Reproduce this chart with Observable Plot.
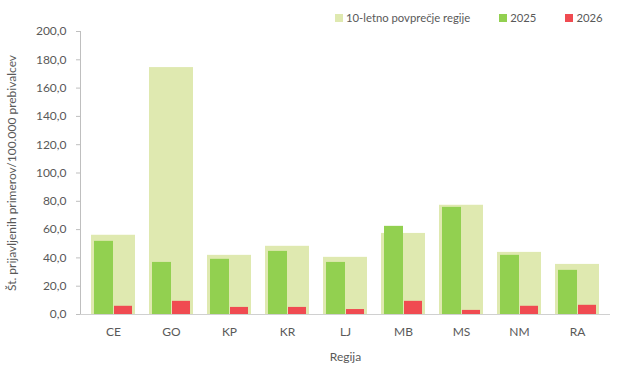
<!DOCTYPE html>
<html>
<head>
<meta charset="utf-8">
<script src="https://cdn.jsdelivr.net/npm/d3@7"></script>
<script src="https://cdn.jsdelivr.net/npm/@observablehq/plot@0.6"></script>
<style>
  html, body { margin: 0; padding: 0; background: #fff; }
  #wrap { position: relative; width: 625px; height: 374px; font-family: Lato, "Open Sans", sans-serif; color: #595959; }
  #legend { position: absolute; top: 11px; left: 335px; display: flex; align-items: center; font-size: 11.3px; white-space: nowrap; }
  .item { display: flex; align-items: center; margin-right: 29px; white-space: nowrap; }
  .sw { width: 8px; height: 8px; margin-right: 3px; flex: none; }
</style>
</head>
<body>
<div id="wrap">
  <div id="chart"></div>
  <div id="legend"></div>
</div>
<script>
const regions = ["CE", "GO", "KP", "KR", "LJ", "MB", "MS", "NM", "RA"];
const avg10 = [56.0, 174.5, 41.8, 48.2, 40.4, 57.3, 77.2, 43.9, 35.4];
const v2025 = [51.7, 36.8, 39.0, 44.6, 36.8, 62.3, 75.7, 41.8, 31.2];
const v2026 = [5.8, 9.3, 5.0, 5.0, 3.5, 9.3, 2.9, 5.8, 6.5];
const yTicks = [0, 20, 40, 60, 80, 100, 120, 140, 160, 180, 200];
const seriesNames = ["10-letno povprečje regije", "2025", "2026"];
const seriesColors = ["#dfe9b0", "#92d050", "#f04b51"];

const data = regions.map((r, i) => ({region: r, avg: avg10[i], a: v2025[i], b: v2026[i]}));
const fmt = d => d.toFixed(1).replace(".", ",");

const chart = Plot.plot({
  width: 625,
  height: 374,
  marginLeft: 80,
  marginRight: 15,
  marginTop: 31,
  marginBottom: 60,
  style: {fontFamily: "Lato, 'Open Sans', sans-serif", fontSize: "12px", color: "#595959", background: "transparent"},
  x: {domain: regions, paddingInner: 0.24, paddingOuter: 0.12},
  y: {domain: [0, 200]},
  marks: [
    Plot.barY(data, {x: "region", y: "avg", fill: seriesColors[0]}),
    Plot.barY(data, {x: "region", y: "a", fill: seriesColors[1], insetLeft: 3, insetRight: 22}),
    Plot.barY(data, {x: "region", y: "b", fill: seriesColors[2], insetLeft: 23, insetRight: 3}),
    Plot.frame({anchor: "left", stroke: "#bfbfbf"}),
    Plot.ruleY([0], {stroke: "#d0d0d0", insetLeft: -3}),
    Plot.axisY({ticks: yTicks, tickFormat: fmt, tickSize: 4, tickPadding: 10, stroke: "#bfbfbf",
      label: "Št. prijavljenih primerov/100.000 prebivalcev", labelAnchor: "center", labelArrow: "none", labelOffset: 73}),
    Plot.axisX({tickSize: 0, tickPadding: 13, label: "Regija", labelAnchor: "center", labelArrow: "none", labelOffset: 46})
  ]
});
document.getElementById("chart").appendChild(chart);

const legend = document.getElementById("legend");
seriesNames.forEach((n, i) => {
  const it = document.createElement("div");
  it.className = "item";
  const sw = document.createElement("div");
  sw.className = "sw";
  sw.style.background = seriesColors[i];
  const t = document.createElement("span");
  t.textContent = n;
  it.appendChild(sw);
  it.appendChild(t);
  legend.appendChild(it);
});
</script>
</body>
</html>
